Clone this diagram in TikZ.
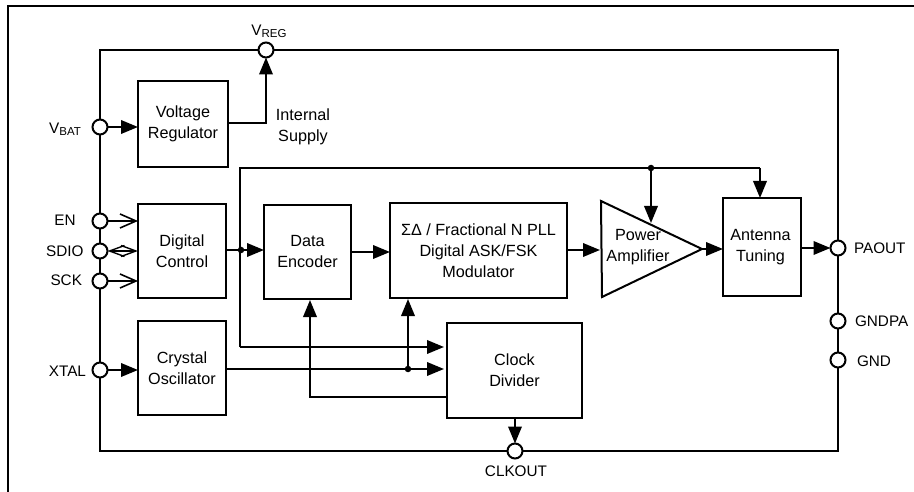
\documentclass[tikz,border=0pt]{standalone}
\usepackage{fontspec}
\setmainfont{Liberation Sans}
\usetikzlibrary{arrows.meta}
\newcommand{\subtxt}[1]{\raisebox{-2.2pt}{\fontsize{11.5}{11.5}\selectfont #1}}
\tikzset{
  blockbox/.style={draw=black,line width=2pt,fill=white,inner sep=0pt,outer sep=0pt,align=center,font=\fontsize{16.2}{21}\selectfont},
  textlab/.style={inner sep=0pt,outer sep=0pt,align=center,font=\fontsize{16.2}{21}\selectfont},
  pinlab/.style={inner sep=0pt,outer sep=0pt,font=\fontsize{15.3}{18}\selectfont},
  pincirc/.style={circle,draw=black,line width=2pt,fill=white,minimum size=15pt,inner sep=0pt,outer sep=0pt},
  wire/.style={draw=black,line width=2pt,line join=miter},
  solidarrow/.style={wire,-{Triangle[length=17pt,width=13.5pt,sep=0pt]}},
  openarrow/.style={draw=black,line width=1.6pt,-{Straight Barb[length=16pt,width=14pt,line width=1.6pt]}},
  openboth/.style={draw=black,line width=1.6pt,{Straight Barb[length=15pt,width=11pt,line width=1.4pt]}-{Straight Barb[length=15pt,width=11pt,line width=1.4pt]}},
  junction/.style={circle,fill=black,minimum size=6.5pt,inner sep=0pt,outer sep=0pt},
}
\begin{document}
\begin{tikzpicture}[x=1pt,y=-1pt]
\useasboundingbox (0,0) rectangle (914,492);
% outer frame
\draw[black,line width=2.2pt] (8,492) -- (8,6) -- (914,6);
% chip
\node[blockbox,minimum width=738pt,minimum height=401pt] (chip) at (469,250.5) {};
% blocks
\node[blockbox,minimum width=90pt,minimum height=86pt] (vr) at (183,124) {Voltage\\Regulator};
\node[blockbox,minimum width=88pt,minimum height=94pt] (dc) at (182,251) {Digital\\Control};
\node[blockbox,minimum width=88pt,minimum height=94pt] (co) at (182,368) {Crystal\\Oscillator};
\node[blockbox,minimum width=87pt,minimum height=94pt] (de) at (307.5,252) {Data\\Encoder};
\node[blockbox,minimum width=177pt,minimum height=95pt] (mod) at (478.5,250.5) {ΣΔ / Fractional N PLL\\Digital ASK/FSK\\Modulator};
\node[blockbox,minimum width=135pt,minimum height=95pt] (cd) at (514.5,370.5) {Clock\\Divider};
\node[blockbox,minimum width=78pt,minimum height=98pt] (ant) at (762,247) {};
\node[textlab] (antlab) at (760.5,247) {Antenna\\Tuning};
% amplifier
\coordinate (patop) at (601,201);
\coordinate (pabot) at (602,297);
\coordinate (patip) at (702,249);
\draw[wire,line join=miter] (patop) -- (patip) -- (pabot) -- cycle;
\node[textlab] (pa) at (638,247) {Power\\Amplifier};
% pins
\node[pincirc] (vreg) at (266,50) {};
\node[pincirc] (vbat) at (100,127) {};
\node[pincirc] (en) at (100,221) {};
\node[pincirc] (sdio) at (100,251) {};
\node[pincirc] (sck) at (100,281) {};
\node[pincirc] (xtal) at (100,370) {};
\node[pincirc] (paout) at (838,248) {};
\node[pincirc] (gndpa) at (838,321) {};
\node[pincirc] (gnd) at (838,360) {};
\node[pincirc] (clkout) at (515,451) {};
% pin labels
\node[pinlab] (lreg) at (269,31) {V\subtxt{REG}};
\node[pinlab] (lbat) at (65,129) {V\subtxt{BAT}};
\node[pinlab] (len) at (65,220) {EN};
\node[pinlab,anchor=east] (lsdio) at (83.5,251) {SDIO};
\node[pinlab,anchor=east] (lsck) at (82,280) {SCK};
\node[pinlab,anchor=east] (lxtal) at (86,371) {XTAL};
\node[pinlab,anchor=west] (lpaout) at (854,248) {PAOUT};
\node[pinlab,anchor=west] (lgndpa) at (855,321) {GNDPA};
\node[pinlab,anchor=west] (lgnd) at (857,361) {GND};
\node[pinlab] (lclk) at (516,471) {CLKOUT};
\node[textlab] (lint) at (303,127) {Internal\\Supply};
% wiring coordinates
\coordinate (vrout) at (266,123);
\coordinate (bustop) at (240,168);
\coordinate (busbot) at (240,347);
\coordinate (busright) at (760,168);
\coordinate (dcout) at (226,250);
\coordinate (dein) at (264,250);
\coordinate (cdin1) at (444,347);
\coordinate (cdin2) at (444,369);
\coordinate (coout) at (226,369);
\coordinate (modin) at (408,299);
\coordinate (cdout) at (447,397);
\coordinate (decorner) at (310,397);
\coordinate (dein2) at (310,300);
\coordinate (paam) at (651,223);
\node[junction] (j1) at (241,250) {};
\node[junction] (j2) at (408,369) {};
\node[junction] (j3) at (651,168) {};
% wires
\draw[solidarrow] (vr.east |- vrout) -- (vrout) -- (vreg.south);
\draw[solidarrow] (vbat.east) -- (vr.west |- vbat);
\draw[solidarrow] (xtal.east) -- (co.west |- xtal);
\draw[openarrow] (en.east) -- (dc.west |- en);
\draw[openarrow] (sck.east) -- (dc.west |- sck);
\draw[openboth] (sdio.east) -- (dc.west |- sdio);
\draw[solidarrow] (dcout) -- (dein);
\draw[solidarrow] (de.east |- 0,252) -- (mod.west |- 0,252);
\draw[solidarrow] (mod.east |- 0,250) -- (600,250);
\draw[solidarrow] (patip) -- (ant.west |- patip);
\draw[solidarrow] (ant.east |- paout) -- (paout.west);
\draw[solidarrow] (busbot) -- (cdin1);
\draw[wire] (busbot) -- (bustop) -- (busright);
\draw[solidarrow] (busright) -- (ant.north -| busright);
\draw[solidarrow] (j3) -- (paam);
\draw[solidarrow] (coout) -- (cdin2);
\draw[solidarrow] (j2) -- (modin);
\draw[solidarrow] (cdout) -- (decorner) -- (dein2);
\draw[solidarrow] (cd.south -| clkout) -- (clkout.north);
\end{tikzpicture}
\end{document}
